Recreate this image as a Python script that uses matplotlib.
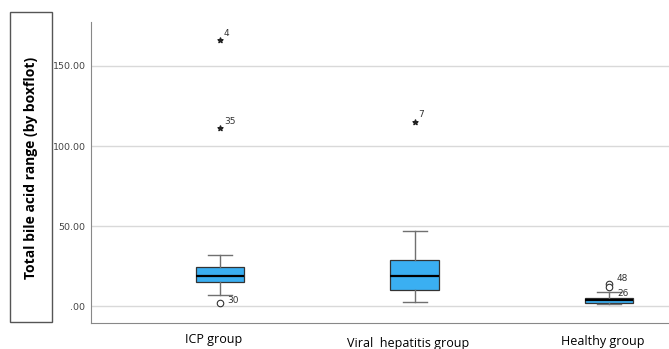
import numpy as np
import matplotlib.pyplot as plt
from matplotlib.patches import Rectangle

# values
groups = ['ICP group', 'Viral  hepatitis group', 'Healthy group']
q1 = [14.8, 10.0, 1.9]
medians = [18.8, 19.0, 3.6]
q3 = [24.2, 28.8, 5.2]
whis_lo = [7.1, 2.7, 1.0]
whis_hi = [31.9, 47.0, 9.0]

# mild outliers (circles) and extremes (stars) with case numbers
circ_group = [1, 3, 3]
circ_val = [1.7, 13.6, 11.8]
circ_case = ['30', '48', '26']
star_group = [1, 1, 2]
star_val = [166.0, 111.0, 115.0]
star_case = ['4', '35', '7']

yticks = [0, 50, 100, 150]
ytick_labels = ['.00', '50.00', '100.00', '150.00']

fig = plt.figure(figsize=(6.69, 3.49), dpi=100)
ax = fig.add_axes([0.136, 0.0745, 0.864, 0.8625])

stats = []
for i in range(len(groups)):
    stats.append(dict(med=medians[i], q1=q1[i], q3=q3[i],
                      whislo=whis_lo[i], whishi=whis_hi[i], fliers=[]))

ax.bxp(stats, positions=[1, 2, 3], widths=0.247, patch_artist=True,
       showfliers=False,
       boxprops=dict(facecolor='#3aaff2', edgecolor='#333333', linewidth=0.9),
       medianprops=dict(color='black', linewidth=1.6),
       whiskerprops=dict(color='#707070', linewidth=1.0),
       capprops=dict(color='#707070', linewidth=1.0),
       zorder=3)

ax.scatter(circ_group, circ_val, s=22, facecolors='white', edgecolors='#333333',
           linewidths=0.8, zorder=4)
ax.scatter(star_group, star_val, marker='*', s=14, color='#222222', zorder=4)

label_off = {'30': (0.04, 1.5), '48': (0.04, 3.5), '26': (0.04, -4.0)}
for g, v, c in zip(circ_group, circ_val, circ_case):
    dx, dy = label_off[c]
    ax.text(g + dx, v + dy, c, fontsize=6.5, color='#333333', va='center', ha='left')
for g, v, c in zip(star_group, star_val, star_case):
    ax.text(g + 0.02, v + 4.5, c, fontsize=6.5, color='#333333', va='center', ha='left')

ax.set_xlim(0.337, 3.308)
ax.set_ylim(-10.6, 177.5)
ax.set_yticks(yticks)
ax.set_yticklabels(ytick_labels, fontsize=6.8, color='#444444')
ax.tick_params(axis='y', length=0, pad=4)
ax.set_xticks([])
for y in yticks:
    ax.axhline(y, color='#d9d9d9', linewidth=1.0, zorder=0)

for s in ['top', 'right']:
    ax.spines[s].set_visible(False)
ax.spines['left'].set_color('#888888')
ax.spines['bottom'].set_color('#888888')

# category labels below the axis
label_y = [0.027, 0.017, 0.022]
for i, g in enumerate(groups):
    xf = ax.transData.transform((i + 1, 0))[0] / fig.bbox.width
    fig.text(xf - 0.01, label_y[i], g, fontsize=9, ha='center', va='center',
             family='Open Sans', color='black')

# boxed y axis title
fig.patches.append(Rectangle((10 / 669, 1 - 322 / 349), 42 / 669, 310 / 349,
                             transform=fig.transFigure, fill=False,
                             edgecolor='#555555', linewidth=1.0))
fig.text(31 / 669, 1 - 168 / 349, 'Total bile acid range (by boxflot)', rotation=90,
         fontsize=10, fontweight='bold', family='Open Sans', ha='center', va='center')

fig.savefig('out.png', dpi=100)
